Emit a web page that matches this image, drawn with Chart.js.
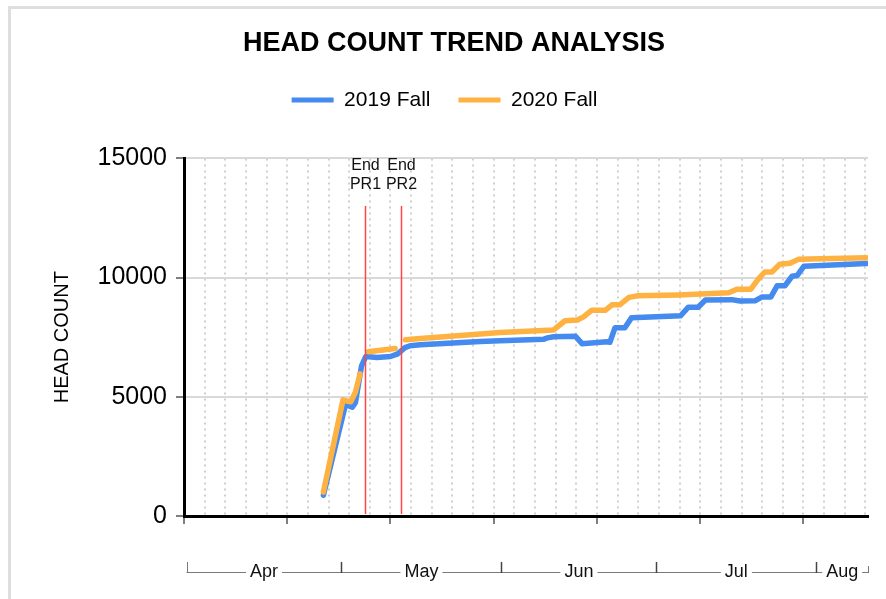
<!DOCTYPE html>
<html>
<head>
<meta charset="utf-8">
<title>Head Count Trend Analysis</title>
<script src="https://cdn.jsdelivr.net/npm/chart.js@4"></script>
<style>
  html, body { margin: 0; padding: 0; background: #fff; overflow: hidden; }
  #frame { position: absolute; left: 8px; top: 6px; width: 1000px; height: 1000px;
           border-left: 3px solid #dedede; border-top: 3px solid #dedede; }
  #wrap { position: absolute; left: 0; top: 0; width: 886px; height: 599px; }
</style>
</head>
<body>
<div id="frame"></div>
<div id="wrap"><canvas id="headCountChart" width="886" height="599"></canvas></div>
<script>
// x = day of the season (1 = Apr 1, 31 = May 1, 62 = Jun 1, 92 = Jul 1, 123 = Aug 1)
const days2019 = [27, 31.3, 32.6, 33.2, 34.4, 35.2, 37.4, 40, 41.4, 42.8, 43.8, 45.8, 57.4, 61.2,
  69.6, 70.4, 71.6, 75.8, 77.1, 81.9, 82.5, 83.5, 85.4, 86.7, 96.2, 97.7, 99.6, 101, 106.1,
  107.7, 110.6, 112, 113.7, 114.9, 116.4, 117.8, 118.8, 120.1, 132.2];
const heads2019 = [870, 4680, 4560, 4750, 6300, 6690, 6650, 6690, 6800, 7060, 7140, 7180, 7320, 7350,
  7410, 7470, 7520, 7545, 7230, 7310, 7290, 7900, 7900, 8320, 8400, 8760, 8755, 9060, 9075,
  9015, 9025, 9190, 9190, 9660, 9660, 10055, 10090, 10480, 10590];

const days2020 = [27, 30.8, 31.8, 32.3, 33.2, 34.1, 35, 35.7, 40.9, 42, 42.9, 45.8, 57.4, 61.2,
  71.6, 73.8, 76.2, 77.4, 79, 81.6, 82.9, 84.4, 86.2, 87.8, 95.8, 105.5, 107.1, 109.8, 111.2,
  112.5, 113.9, 115.4, 117.4, 119, 132.2];
const heads2020 = [1000, 4870, 4810, 4790, 5190, 5960, null, 6890, 7030, null, 7395, 7450, 7630, 7700,
  7805, 8190, 8220, 8355, 8635, 8630, 8860, 8860, 9170, 9235, 9275, 9365, 9515, 9515, 9930,
  10235, 10235, 10560, 10600, 10765, 10830];

const yTicks = [0, 5000, 10000, 15000];
const monthNames = ["Apr", "May", "Jun", "Jul", "Aug"];
const monthEdges = [0.5, 30.5, 61.5, 91.5, 122.5, 132.5];
const markerDays = [35, 42];
const markerLabels = [["End", "PR1"], ["End", "PR2"]];
const markerTop = 13000;

const gridDays = [];
for (let d = 0; d <= 132; d += 4) gridDays.push(d);

const FONT = "'Liberation Sans', Arial, sans-serif";
Chart.defaults.font.family = FONT;
Chart.defaults.color = "#000";

const toPoints = (xs, ys) => xs.map((x, i) => ({ x: x, y: ys[i] }));

// push the plot down below the legend, and nudge the legend a bit left
const legendGap = {
  id: "legendGap",
  beforeLayout(chart) {
    const lg = chart.legend;
    if (lg && !lg._gapPatched) {
      const fit = lg.fit;
      lg.fit = function () {
        fit.call(this);
        this.height += 38;
      };
      lg._gapPatched = true;
    }
  },
  afterLayout(chart) {
    if (chart.legend) chart.legend.left -= 19;
  },
};

// red "End PR" lines
const prMarkers = {
  id: "prMarkers",
  afterDatasetsDraw(chart) {
    const { ctx } = chart;
    const x = chart.scales.x, y = chart.scales.y;
    const top = y.getPixelForValue(markerTop);
    const bottom = y.getPixelForValue(0) - 2;
    ctx.save();
    ctx.font = "16px " + FONT;
    ctx.textAlign = "center";
    ctx.textBaseline = "middle";
    markerDays.forEach((d, i) => {
      const px = Math.round(x.getPixelForValue(d)) + 0.5;
      ctx.strokeStyle = "#ff4545";
      ctx.lineWidth = 1.5;
      ctx.setLineDash([]);
      ctx.beginPath();
      ctx.moveTo(px, top);
      ctx.lineTo(px, bottom);
      ctx.stroke();
      ctx.fillStyle = "#111";
      ctx.fillText(markerLabels[i][0], px, top - 40);
      ctx.fillText(markerLabels[i][1], px, top - 21);
    });
    ctx.restore();
  },
};

// month brackets under the x axis
const monthAxis = {
  id: "monthAxis",
  afterDraw(chart) {
    const { ctx, chartArea } = chart;
    const x = chart.scales.x;
    const yLine = chartArea.bottom + 56;
    ctx.save();
    ctx.font = "18px " + FONT;
    ctx.textAlign = "center";
    ctx.textBaseline = "middle";
    ctx.fillStyle = "#111";
    monthNames.forEach((m, i) => {
      const x0 = x.getPixelForValue(monthEdges[i]);
      const x1 = x.getPixelForValue(monthEdges[i + 1]);
      const mid = (x0 + x1) / 2;
      const half = ctx.measureText(m).width / 2 + 4;
      ctx.strokeStyle = "#7a7a7a";
      ctx.lineWidth = 1;
      ctx.beginPath();
      ctx.moveTo(x0, yLine + 0.5);
      ctx.lineTo(mid - half, yLine + 0.5);
      ctx.moveTo(mid + half, yLine + 0.5);
      ctx.lineTo(x1, yLine + 0.5);
      ctx.stroke();
      ctx.fillText(m, mid, yLine);
    });
    const last = monthEdges.length - 1;
    monthEdges.forEach((e, i) => {
      const px = Math.round(x.getPixelForValue(e)) + 0.5;
      const h = i === last ? 6 : 10;
      ctx.strokeStyle = i === 0 || i === last ? "#777" : "#444";
      ctx.lineWidth = i === 0 || i === last ? 1 : 1.5;
      ctx.beginPath();
      ctx.moveTo(px, yLine - h);
      ctx.lineTo(px, yLine + 1);
      ctx.stroke();
    });
    ctx.restore();
  },
};

new Chart(document.getElementById("headCountChart"), {
  type: "line",
  data: {
    datasets: [
      {
        label: "2019 Fall",
        data: toPoints(days2019, heads2019),
        borderColor: "#448aef",
        backgroundColor: "#448aef",
        order: 1,
      },
      {
        label: "2020 Fall",
        data: toPoints(days2020, heads2020),
        borderColor: "#fdb242",
        backgroundColor: "#fdb242",
        order: 0,
      },
    ],
  },
  options: {
    responsive: false,
    animation: false,
    devicePixelRatio: 1,
    spanGaps: false,
    layout: { padding: { left: 40, right: 18, top: 0, bottom: 0 } },
    elements: {
      line: { borderWidth: 5.5, tension: 0, borderJoinStyle: "round", borderCapStyle: "round", fill: false },
      point: { radius: 0, hoverRadius: 0 },
    },
    plugins: {
      title: {
        display: true,
        text: "HEAD COUNT TREND ANALYSIS",
        color: "#000",
        font: { size: 27, weight: "bold" },
        padding: { top: 27, bottom: 2 },
      },
      legend: {
        display: true,
        labels: {
          color: "#000",
          font: { size: 21 },
          boxWidth: 42,
          boxHeight: 5,
          padding: 28,
          sort: (a, b) => a.datasetIndex - b.datasetIndex,
          generateLabels(chart) {
            const items = Chart.defaults.plugins.legend.labels.generateLabels(chart);
            items.forEach((it) => { it.lineWidth = 0; });
            return items;
          },
        },
      },
      tooltip: { enabled: false },
    },
    scales: {
      x: {
        type: "linear",
        min: 0,
        max: 132.5,
        bounds: "data",
        afterBuildTicks(s) { s.ticks = gridDays.map((v) => ({ value: v })); },
        afterFit(s) { s.height = 83; },
        ticks: { display: false },
        grid: {
          color: "#d0d0d0",
          lineWidth: 2,
          tickLength: 8,
          tickWidth: 1.5,
          tickColor: (c) => (c.tick && c.tick.value % 20 === 0 ? "#555" : "rgba(0,0,0,0)"),
        },
        border: { display: true, color: "#000", width: 3, dash: [2, 4] },
      },
      y: {
        min: 0,
        max: 15000,
        afterBuildTicks(s) { s.ticks = yTicks.map((v) => ({ value: v })); },
        afterFit(s) { s.width = 144; },
        ticks: { color: "#000", font: { size: 25 }, padding: 9, callback: (v) => String(v) },
        grid: { color: "#d9d9d9", lineWidth: 2, tickLength: 8, tickWidth: 1.5, tickColor: "#555" },
        border: { display: true, color: "#000", width: 3 },
        title: {
          display: true,
          text: "HEAD COUNT",
          color: "#000",
          font: { size: 20 },
          padding: { top: 10, bottom: 0 },
        },
      },
    },
  },
  plugins: [legendGap, prMarkers, monthAxis],
});
</script>
</body>
</html>
